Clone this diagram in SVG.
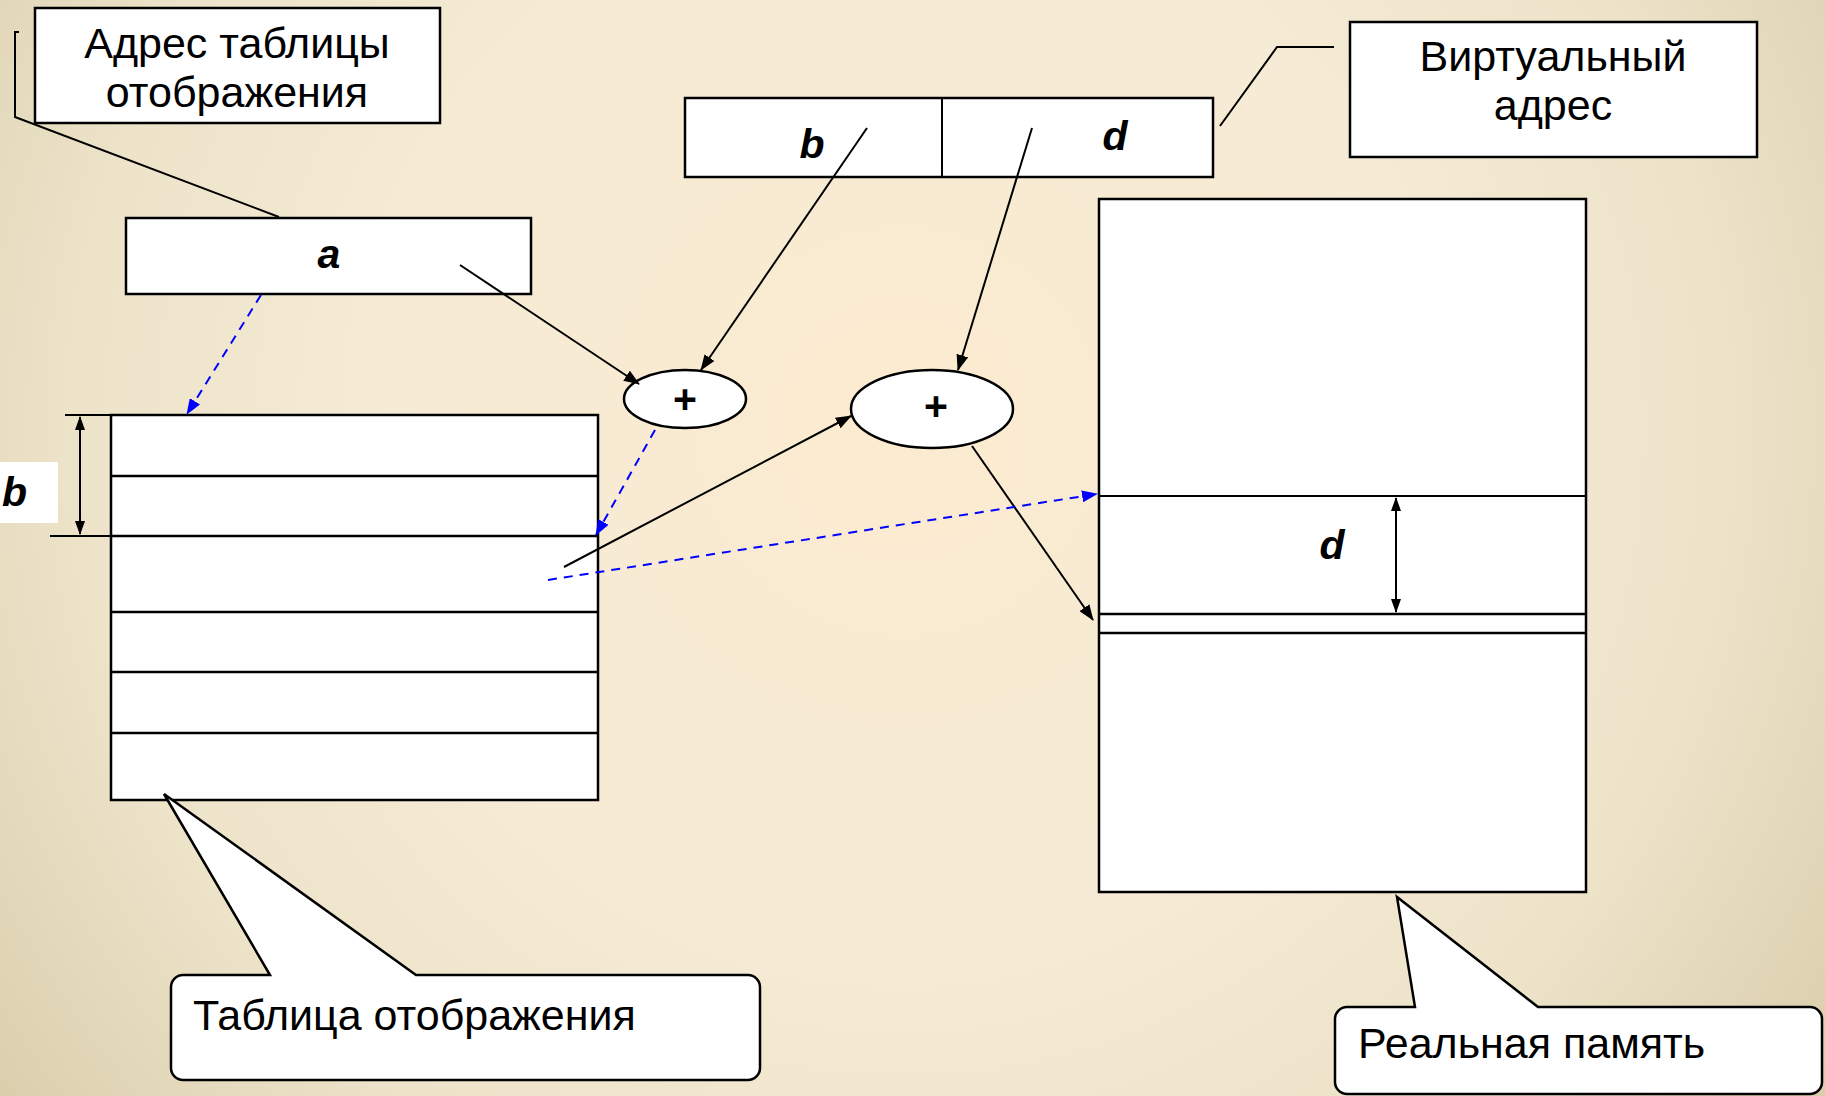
<svg xmlns="http://www.w3.org/2000/svg" width="1825" height="1096" viewBox="0 0 1825 1096">
  <style>
    .box { fill: #ffffff; stroke: #000000; stroke-width: 2.5; }
    .thin { fill: none; stroke: #000000; stroke-width: 2; }
    .row { fill: none; stroke: #000000; stroke-width: 2.5; }
    .lbl { font-family: "Liberation Sans", Arial, sans-serif; font-size: 43px; fill: #000000; }
    .var { font-family: "Liberation Sans", Arial, sans-serif; font-size: 41px; font-weight: bold; font-style: italic; fill: #000000; }
    .op { font-family: "Liberation Sans", Arial, sans-serif; font-size: 41px; font-weight: bold; fill: #000000; }
    .arrow { fill: none; stroke: #000000; stroke-width: 2; marker-end: url(#ahBlack); }
    .dash { fill: none; stroke: #0000ff; stroke-width: 2; stroke-dasharray: 9 7; marker-end: url(#ahBlue); }
    .dim { fill: none; stroke: #000000; stroke-width: 2; marker-start: url(#ahDim); marker-end: url(#ahDim); }
  </style>
  <defs>
    <radialGradient id="bg" gradientUnits="userSpaceOnUse" cx="900" cy="430" r="1150">
      <stop offset="0" stop-color="#fbebd0"/>
      <stop offset="0.45" stop-color="#f6ebd5"/>
      <stop offset="0.72" stop-color="#ece3c9"/>
      <stop offset="1" stop-color="#d9ccaa"/>
    </radialGradient>
    <marker id="ahBlack" markerUnits="userSpaceOnUse" markerWidth="16" markerHeight="12" refX="15" refY="6" orient="auto">
      <path d="M0,0 L16,6 L0,12 z" fill="#000000"/>
    </marker>
    <marker id="ahBlue" markerUnits="userSpaceOnUse" markerWidth="16" markerHeight="12" refX="15" refY="6" orient="auto">
      <path d="M0,0 L16,6 L0,12 z" fill="#0000ff"/>
    </marker>
    <marker id="ahDim" markerUnits="userSpaceOnUse" markerWidth="14" markerHeight="10" refX="13" refY="5" orient="auto-start-reverse">
      <path d="M0,0 L14,5 L0,10 z" fill="#000000"/>
    </marker>
  </defs>

  <rect x="0" y="0" width="1825" height="1096" fill="url(#bg)"/>

  <!-- callout: page table address -->
  <g id="table-address-callout">
    <polyline class="thin" points="19,32 15,32 15,117 279,217"/>
    <rect class="box" x="35" y="8" width="405" height="115"/>
    <text class="lbl" x="237" y="58" text-anchor="middle">Адрес таблицы</text>
    <text class="lbl" x="237" y="107" text-anchor="middle">отображения</text>
  </g>

  <!-- register a -->
  <g id="register-a">
    <rect class="box" x="126" y="218" width="405" height="76"/>
    <text class="var" x="329" y="268" text-anchor="middle">a</text>
  </g>

  <!-- virtual address b | d -->
  <g id="virtual-address">
    <rect class="box" x="685" y="98" width="528" height="79"/>
    <line class="thin" x1="942" y1="98" x2="942" y2="177"/>
    <text class="var" x="812" y="158" text-anchor="middle">b</text>
    <text class="var" x="1115" y="150" text-anchor="middle">d</text>
  </g>

  <!-- callout: virtual address -->
  <g id="virtual-address-callout">
    <polyline class="thin" points="1220,126 1277,47 1334,47"/>
    <rect class="box" x="1350" y="22" width="407" height="135"/>
    <text class="lbl" x="1553" y="71" text-anchor="middle">Виртуальный</text>
    <text class="lbl" x="1553" y="120" text-anchor="middle">адрес</text>
  </g>

  <!-- adders -->
  <g id="adder-1">
    <ellipse class="box" cx="685" cy="399" rx="61" ry="29" stroke-width="2"/>
    <text class="op" x="685" y="413" text-anchor="middle">+</text>
  </g>
  <g id="adder-2">
    <ellipse class="box" cx="932" cy="409" rx="81" ry="39" stroke-width="2"/>
    <text class="op" x="936" y="420" text-anchor="middle">+</text>
  </g>

  <!-- page table -->
  <g id="page-table">
    <rect class="box" x="111" y="415" width="487" height="385"/>
    <line class="row" x1="111" y1="476" x2="598" y2="476"/>
    <line class="row" x1="111" y1="536" x2="598" y2="536"/>
    <line class="row" x1="111" y1="612" x2="598" y2="612"/>
    <line class="row" x1="111" y1="672" x2="598" y2="672"/>
    <line class="row" x1="111" y1="733" x2="598" y2="733"/>
    <!-- row index dimension b -->
    <line class="thin" x1="65" y1="415" x2="111" y2="415"/>
    <line class="thin" x1="50" y1="536" x2="111" y2="536"/>
    <line class="dim" x1="80" y1="417" x2="80" y2="534"/>
    <rect x="0" y="462" width="58" height="61" fill="#ffffff"/>
    <text class="var" x="2" y="506">b</text>
  </g>

  <!-- real memory -->
  <g id="real-memory">
    <rect class="box" x="1099" y="199" width="487" height="693"/>
    <line class="thin" x1="1099" y1="496" x2="1586" y2="496"/>
    <line class="row" x1="1099" y1="614" x2="1586" y2="614"/>
    <line class="row" x1="1099" y1="633" x2="1586" y2="633"/>
    <line class="dim" stroke-width="1.5" x1="1396" y1="498" x2="1396" y2="612"/>
    <text class="var" x="1332" y="559" text-anchor="middle">d</text>
  </g>

  <!-- callout: page table -->
  <g id="page-table-callout">
    <path class="box" stroke-width="2" d="M183,975 L270,975 L164,794 L416,975 L748,975 A12,12 0 0 1 760,987 L760,1068 A12,12 0 0 1 748,1080 L183,1080 A12,12 0 0 1 171,1068 L171,987 A12,12 0 0 1 183,975 Z"/>
    <text class="lbl" x="193" y="1030">Таблица отображения</text>
  </g>

  <!-- callout: real memory -->
  <g id="real-memory-callout">
    <path class="box" stroke-width="2" d="M1347,1007 L1415,1007 L1397,897 L1538,1007 L1810,1007 A12,12 0 0 1 1822,1019 L1822,1082 A12,12 0 0 1 1810,1094 L1347,1094 A12,12 0 0 1 1335,1082 L1335,1019 A12,12 0 0 1 1347,1007 Z"/>
    <text class="lbl" x="1358" y="1058">Реальная память</text>
  </g>

  <!-- connectors -->
  <g id="connectors">
    <line class="arrow" x1="460" y1="265" x2="639" y2="384"/>
    <line class="arrow" x1="867" y1="128" x2="701" y2="370"/>
    <line class="arrow" x1="1032" y1="128" x2="958" y2="370"/>
    <line class="arrow" x1="564" y1="567" x2="851" y2="416"/>
    <line class="arrow" x1="972" y1="446" x2="1093" y2="620"/>
    <line class="dash" x1="261" y1="295" x2="187" y2="414"/>
    <line class="dash" x1="655" y1="430" x2="596" y2="535"/>
    <line class="dash" x1="548" y1="580" x2="1097" y2="494"/>
  </g>
</svg>
